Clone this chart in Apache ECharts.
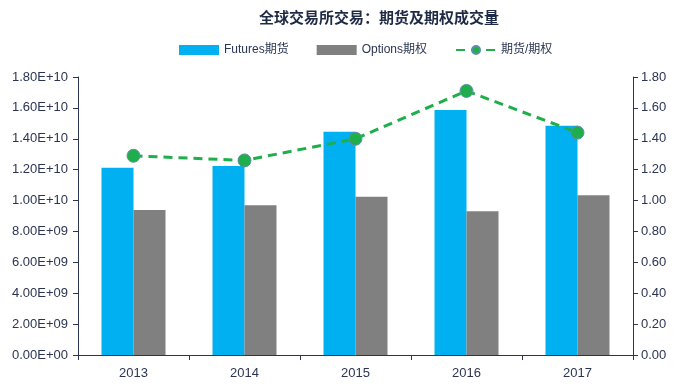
<!DOCTYPE html>
<html><head><meta charset="utf-8">
<script src="https://cdn.jsdelivr.net/npm/echarts@6/dist/echarts.min.js"></script>
<style>html,body{margin:0;padding:0;background:#fff}#c{width:676px;height:387px}</style>
</head><body><div id="c"></div>
<script>
var categories = ['2013', '2014', '2015', '2016', '2017'];
var futures = [12.13e9, 12.24e9, 14.46e9, 15.86e9, 14.85e9];
var options = [9.39e9, 9.69e9, 10.25e9, 9.30e9, 10.34e9];
var ratio = [1.29, 1.26, 1.40, 1.71, 1.44];
var leftTicks = ['0.00E+00','2.00E+09','4.00E+09','6.00E+09','8.00E+09','1.00E+10','1.20E+10','1.40E+10','1.60E+10','1.80E+10'];
var rightTicks = ['0.00','0.20','0.40','0.60','0.80','1.00','1.20','1.40','1.60','1.80'];
var seriesNames = ['Futures期货', 'Options期权', '期货/期权'];

var labelColor = '#2b3553';
var axisColor = '#2b3553';
var font = '"Liberation Sans", Arial, sans-serif';
var chart = echarts.init(document.getElementById('c'));
chart.setOption({
  animation: false,
  title: {
    text: '全球交易所交易：期货及期权成交量',
    left: 374, top: 5, textAlign: 'center',
    textStyle: {fontFamily: '"Noto Sans CJK SC", sans-serif', fontSize: 15, fontWeight: 'bold', color: '#1f2a44'}
  },
  legend: {
    top: 39, left: 174,
    itemGap: 28,
    textStyle: {fontFamily: '"Liberation Sans", "Noto Sans CJK SC", sans-serif', fontSize: 12, color: '#2b3553'},
    data: [
      {name: seriesNames[0], icon: 'rect', itemWidth: 40, itemHeight: 8},
      {name: seriesNames[1], icon: 'rect', itemWidth: 40, itemHeight: 8},
      {name: seriesNames[2]}
    ],
    itemWidth: 40, itemHeight: 10
  },
  grid: {left: 78, right: 43, top: 77, bottom: 32},
  xAxis: {
    type: 'category', data: categories,
    axisLine: {lineStyle: {color: axisColor, width: 1}},
    axisTick: {show: true, length: 5, lineStyle: {color: axisColor}},
    axisLabel: {fontFamily: font, fontSize: 13, color: labelColor, margin: 12}
  },
  yAxis: [{
    type: 'value', min: 0, max: 1.8e10, interval: 2e9,
    axisLine: {show: true, lineStyle: {color: axisColor}},
    axisTick: {show: true, length: 5, lineStyle: {color: axisColor}},
    splitLine: {show: false},
    axisLabel: {fontFamily: font, fontSize: 13, color: labelColor, margin: 10,
      formatter: function (v) { return leftTicks[Math.round(v / 2e9)]; }}
  }, {
    type: 'value', min: 0, max: 1.8, interval: 0.2,
    axisLine: {show: true, lineStyle: {color: axisColor}},
    axisTick: {show: true, length: 5, lineStyle: {color: axisColor}},
    splitLine: {show: false},
    axisLabel: {fontFamily: font, fontSize: 13, color: labelColor, margin: 8,
      formatter: function (v) { return rightTicks[Math.round(v / 0.2)]; }}
  }],
  series: [{
    name: seriesNames[0], type: 'bar', data: futures, barWidth: 32, barGap: '0%',
    itemStyle: {color: '#00b0f0'}
  }, {
    name: seriesNames[1], type: 'bar', data: options, barWidth: 32,
    itemStyle: {color: '#808080'}
  }, {
    name: seriesNames[2], type: 'line', yAxisIndex: 1, data: ratio,
    symbol: 'circle', symbolSize: 13,
    lineStyle: {color: '#1fae4b', width: 3, type: [9, 6]},
    itemStyle: {color: '#1fae4b', borderColor: '#5b8fa8', borderWidth: 1}
  }]
});
</script></body></html>
